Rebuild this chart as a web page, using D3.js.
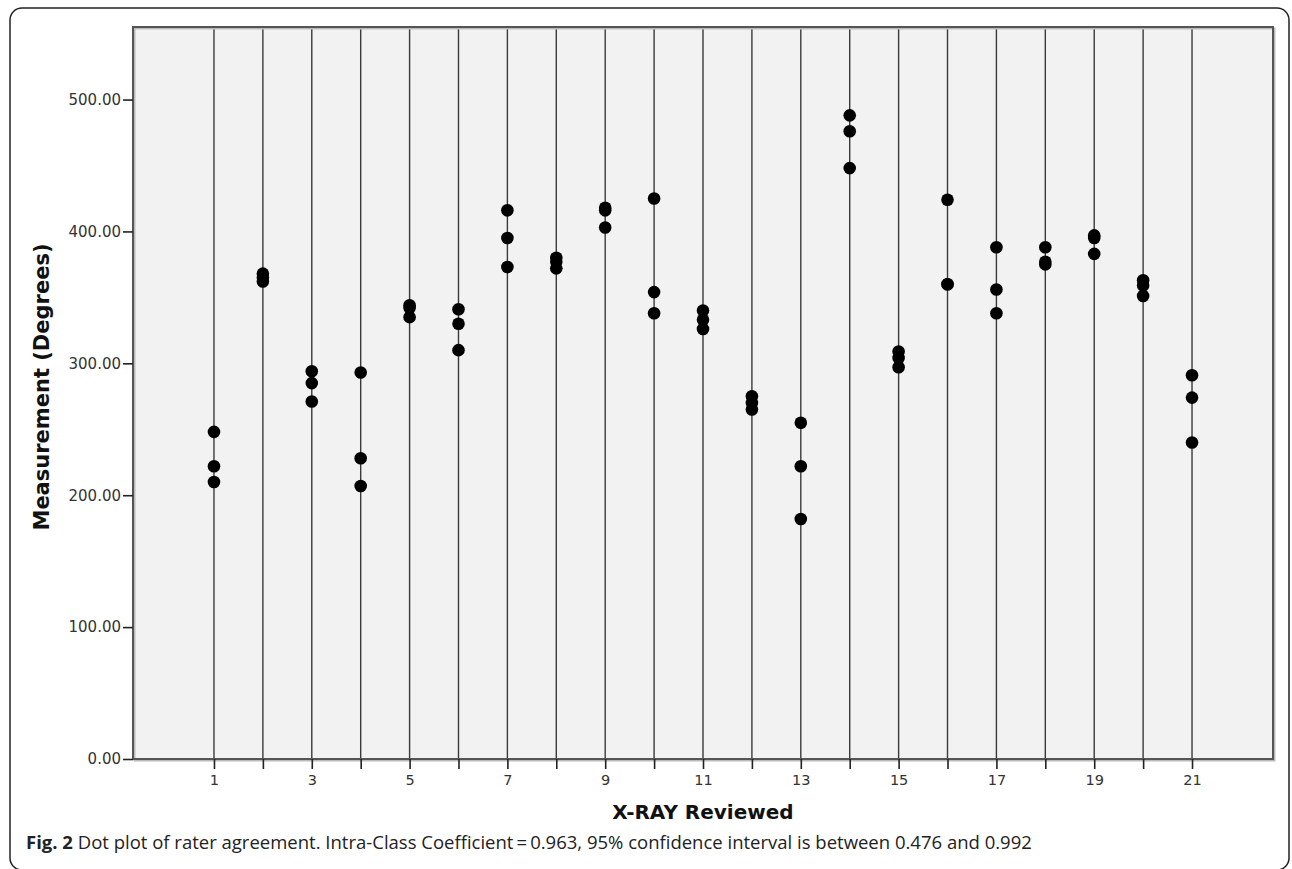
<!DOCTYPE html>
<html>
<head>
<meta charset="utf-8">
<script src="https://cdn.jsdelivr.net/npm/d3@7"></script>
<style>
  body { margin: 0; background: #fff; }
  .tick text { font-family: "DejaVu Sans", sans-serif; fill: #333; }
  .title { font-family: "DejaVu Sans", sans-serif; font-weight: bold; fill: #111; }
  .caption { font-family: "Open Sans", sans-serif; fill: #222; }
</style>
</head>
<body>
<div id="chart"></div>
<script>
// x-ray numbers and the three readings for each
var xray = [1,2,3,4,5,6,7,8,9,10,11,12,13,14,15,16,17,18,19,20,21];
var reading1 = [248,368,294,293,344,341,416,380,418,425,340,275,255,488,309,424,388,388,397,363,291];
var reading2 = [222,365,285,228,342,330,395,377,416,354,333,270,222,476,304,360,356,377,395,359,274];
var reading3 = [210,362,271,207,335,310,373,372,403,338,326,265,182,448,297,360,338,375,383,351,240];
var yTicks = [0,100,200,300,400,500];
var xLabels = [1,3,5,7,9,11,13,15,17,19,21];

var W = 1292, H = 869;
var margin = {top: 27, right: 19, bottom: 110, left: 133},
    width = W - margin.left - margin.right,
    height = H - margin.top - margin.bottom;

var svg = d3.select("#chart")
  .append("svg")
    .attr("width", W)
    .attr("height", H);

// outer rounded frame
svg.append("rect")
  .attr("x", 10).attr("y", 8)
  .attr("width", 1279).attr("height", 862)
  .attr("rx", 12)
  .attr("fill", "none")
  .attr("stroke", "#222")
  .attr("stroke-width", 1.5);

var g = svg.append("g")
  .attr("transform", "translate(" + margin.left + "," + margin.top + ")");

var x = d3.scaleLinear()
  .domain([-0.656, 22.656])
  .range([0, width]);

var y = d3.scaleLinear()
  .domain([0, 555])
  .range([height, 0]);

// plot background
g.append("rect")
  .attr("width", width).attr("height", height)
  .attr("fill", "#f2f2f2");

// drop lines for every x-ray
g.selectAll(".drop")
  .data(xray)
  .enter()
  .append("line")
    .attr("x1", function(d) { return x(d); })
    .attr("x2", function(d) { return x(d); })
    .attr("y1", 0)
    .attr("y2", height)
    .attr("stroke", "#3a3a3a")
    .attr("stroke-width", 1.4);

// frame (slight shadow on right / bottom)
g.append("rect")
  .attr("x", 1.5).attr("y", 1.5)
  .attr("width", width).attr("height", height)
  .attr("fill", "none")
  .attr("stroke", "#bbb")
  .attr("stroke-width", 2);
g.append("rect")
  .attr("width", width).attr("height", height)
  .attr("fill", "none")
  .attr("stroke", "#555")
  .attr("stroke-width", 2);

// axes
var xAxis = g.append("g")
  .attr("transform", "translate(0," + height + ")")
  .call(d3.axisBottom(x)
    .tickValues(xray)
    .tickSize(10)
    .tickPadding(6)
    .tickFormat(function(d) { return xLabels.indexOf(d) >= 0 ? d : ""; }));
xAxis.select(".domain").remove();
xAxis.selectAll(".tick line").attr("stroke", "#222").attr("stroke-width", 1.6);
xAxis.selectAll(".tick text").style("font-size", "14.5px");

var yAxis = g.append("g")
  .call(d3.axisLeft(y)
    .tickValues(yTicks)
    .tickSize(10)
    .tickPadding(2)
    .tickFormat(d3.format(".2f")));
yAxis.select(".domain").remove();
yAxis.selectAll(".tick line").attr("stroke", "#222").attr("stroke-width", 1.6);
yAxis.selectAll(".tick text").style("font-size", "15px");

// dots
var points = [];
xray.forEach(function(d, i) {
  points.push({x: d, v: reading1[i]});
  points.push({x: d, v: reading2[i]});
  points.push({x: d, v: reading3[i]});
});

g.selectAll(".dot")
  .data(points)
  .enter()
  .append("circle")
    .attr("cx", function(d) { return x(d.x); })
    .attr("cy", function(d) { return y(d.v); })
    .attr("r", 6.3)
    .attr("fill", "#000");

// axis titles
svg.append("text")
  .classed("title", true)
  .attr("text-anchor", "middle")
  .attr("x", margin.left + width / 2)
  .attr("y", 819)
  .style("font-size", "20px")
  .text("X-RAY Reviewed");

svg.append("text")
  .classed("title", true)
  .attr("text-anchor", "middle")
  .attr("transform", "translate(49,387)rotate(-90)")
  .style("font-size", "21px")
  .text("Measurement (Degrees)");

// caption
var cap = svg.append("text")
  .classed("caption", true)
  .attr("x", 26)
  .attr("y", 849)
  .style("font-size", "18.5px");
cap.append("tspan").style("font-weight", "bold").text("Fig. 2");
cap.append("tspan").text(" Dot plot of rater agreement. Intra-Class Coefficient\u2009=\u20090.963, 95% confidence interval is between 0.476 and 0.992");
</script>
</body>
</html>
